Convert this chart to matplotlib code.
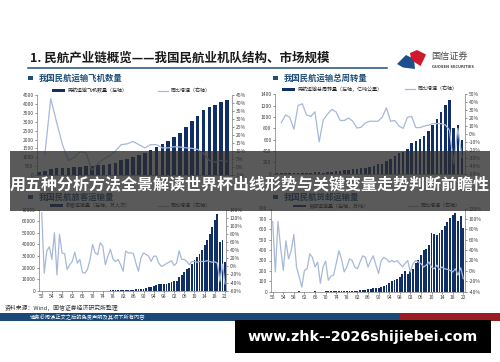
import numpy as np
import matplotlib
matplotlib.use('Agg')
import matplotlib.pyplot as plt
from matplotlib.patches import Rectangle, Polygon, Patch
from matplotlib.lines import Line2D

plt.rcParams['font.family'] = ['Noto Sans CJK SC', 'DejaVu Sans']
plt.rcParams['axes.unicode_minus'] = False

# ---------------- data ----------------
fleet_years = list(range(1990, 2023))
fleet_count = [190, 230, 330, 365, 385, 405, 425, 445, 520, 500, 540, 580, 620, 700, 820,
               880, 1010, 1110, 1250, 1400, 1560, 1770, 1940, 2170, 2380, 2690, 3020, 3345,
               3690, 3845, 3960, 4110, 4250]
fleet_growth_years = list(range(1991, 2023))
fleet_growth = [8, 43, 28, 14, 4, 6, 9.5, 9, -2, 2, 5, 7, 10, 14, 14.5, 16, 14, 12, 14, 14,
                12, 12, 12.7, 12.5, 12, 11.7, 11, 8.5, 4, 3, 4, 3.5]

turnover_years = list(range(1978, 2023))
turnover = [3, 4, 4, 5, 6, 7, 9, 12, 16, 20, 23, 19, 25, 35, 45, 52, 58, 71, 81, 87, 93, 106,
            122, 141, 165, 170, 231, 261, 306, 365, 376, 427, 538, 577, 610, 672, 748, 852,
            963, 1083, 1206, 1300, 799, 857, 599]
turnover_growth_years = list(range(1979, 2023))
turnover_growth = [14, 24, 21, 6, 36, 38, 24, 22, 28, -10, 18, 25, 31, 28, 17, 17, 20, 16, 7.5,
                   8.5, 14, 16, 16, 16, 21, 33, 16, 17, 10, 7, 21, 22, 8, 8, 10, 11, 13, 13, 13,
                   11.5, 5, -38, 7, -30]

pax_years = list(range(1950, 2023))
pax = [1, 2, 2, 3, 4, 5, 8, 7, 10, 13,
       15, 12, 10, 11, 13, 27, 30, 25, 28, 20,
       22, 25, 35, 50, 70, 139, 154, 176,
       231, 298, 343, 401, 445, 391, 554, 747, 997, 1310, 1442, 1283, 1660, 2178, 2886,
       3383, 4039, 5117, 5555, 5630, 5755, 6094, 6722, 7524, 8594, 8759, 12123, 13827,
       15968, 18576, 19251, 23052, 26769, 29317, 31936, 35397, 39195, 43618, 48796, 55156,
       61174, 65993, 41778, 44056, 25171]
pax_growth = [132, -17, 38, 48, 17, 83, -21, 79, 33, 31,
              -8, 4, 12, 35, 8, 17, -15, -17, -7, 17,
              54, 33, 29, 58, 50, 4, 25, 42, 18, 12,
              17, 4, -12, 38, 33, 33, 32, 8, -12, 21,
              33, 29, 25, 12, 25, 25, 8, 0, 2, 7,
              10, 14, 2, 8, 38, 17, 17, 12, 4, 12,
              12, 10, 12, 12, 12, 14, 12, 10, 11, 8,
              -37, 5, -43]

cargo_years = list(range(1950, 2023))
cargo = [0.1, 0.2, 0.3, 0.4, 0.5, 0.6, 0.7, 0.8, 1.0, 1.5,
         2.0, 1.6, 1.0, 1.1, 1.3, 1.7, 2.0, 1.8, 1.9, 1.8,
         2.0, 2.5, 3.0, 3.4, 3.8, 4.5, 5.0, 5.6,
         6, 8, 9, 9, 10, 12, 15, 20, 22, 30, 33, 31, 37, 45, 58, 69, 83, 101, 115, 125,
         140, 170, 197, 171, 202, 219, 277, 307, 349, 402, 408, 446, 563, 558, 545, 561,
         594, 629, 668, 706, 739, 753, 677, 732, 608]
cargo_growth = [95, -2, 95, 45, 1, 58, 23, 39, 70, 7.5,
                -11, -31, 1, 4, 33, 26, 7.5, 17, -24, 7.5,
                19, -18, -10, -8, 14, 39, 23, -2, 7.5, 23,
                20, 7.5, 4, 17, 29, 26, 7.5, 20, 29, 11,
                -5, 20, 26, 23, 17, 20, 17, 20, 14, 7.5,
                14, 20, -2, 14, 20, 17, 14, 7.5, 11, 17,
                7.5, 4, 11, 2.5, 7.5, 4, 3,
                1, -2, 4, -8, 6, -15]

long_xticks = list(range(1950, 2023, 4))
long_xlabels = [f'{y % 100:02d}' for y in long_xticks]

title = '1. 民航产业链概览——我国民航业机队结构、市场规模'
overlay_text = '用五种分析方法全景解读世界杯出线形势与关键变量走势判断前瞻性'
site_text = 'www.zhk--2026shijiebei.com'

# ---------------- style ----------------
W, H = 500, 362
BAR = '#102f66'
LINE = '#a7b8d8'
BLUE = '#1f4e79'
TXT = '#404040'
FS = 3.6

fig = plt.figure(figsize=(5, 3.62), dpi=100)
fig.patch.set_facecolor('white')


def fx(x):
    return x / W


def fy(y):
    return 1 - y / H


def panel(rect, xlim, years, vals, gyears, gvals, ylim, yticks, y2lim, y2ticks,
          barw, labels, legx, legy, xticks=None, xlabels=None):
    x0, y0, x1, y1 = rect
    ax = fig.add_axes([fx(x0), fy(y1), (x1 - x0) / W, (y1 - y0) / H])
    ax.bar(years, vals, width=barw, color=BAR, linewidth=0, zorder=2)
    ax.set_xlim(*xlim)
    ax.set_ylim(*ylim)
    ax.set_yticks(yticks)
    ax.set_yticklabels([str(t) for t in yticks])
    if xticks is not None:
        ax.set_xticks(xticks)
        ax.set_xticklabels(xlabels)
    else:
        ax.set_xticks([])
    ax2 = ax.twinx()
    ax2.plot(gyears, gvals, color=LINE, lw=0.9, zorder=3)
    ax2.set_ylim(*y2lim)
    ax2.set_yticks(y2ticks)
    ax2.set_yticklabels([f'{t}%' for t in y2ticks])
    for a in (ax, ax2):
        a.set_facecolor('none')
        a.tick_params(labelsize=FS, length=1.5, width=0.4, pad=1, colors=TXT)
        for s in a.spines.values():
            s.set_color('#7f7f7f')
            s.set_linewidth(0.5)
    ax.spines['top'].set_visible(False)
    ax.spines['right'].set_visible(False)
    for s in ('top', 'left', 'bottom'):
        ax2.spines[s].set_visible(False)
    h1 = Patch(facecolor=BAR, edgecolor='none')
    leg1 = ax.legend([h1], [labels[0]], loc='center left', bbox_to_anchor=(legx[0], legy),
                     frameon=False, fontsize=FS, handlelength=2.6, handleheight=0.45,
                     handletextpad=0.5, borderpad=0, borderaxespad=0)
    h2 = Line2D([], [], color=LINE, lw=0.9)
    leg2 = ax2.legend([h2], [labels[1]], loc='center left', bbox_to_anchor=(legx[1], legy),
                      frameon=False, fontsize=FS, handlelength=2.0,
                      handletextpad=0.5, borderpad=0, borderaxespad=0)
    for lg in (leg1, leg2):
        for t in lg.get_texts():
            t.set_color('#222222')
    return ax, ax2


# top-left: fleet
panel((37, 95.3, 232, 174.9), (1989.66, 2022.85), fleet_years, fleet_count,
      fleet_growth_years, fleet_growth, (0, 4500), list(range(0, 4501, 500)),
      (-5, 45), list(range(-5, 46, 5)), 0.6,
      ('民航运输飞机数量（左轴）', '同比增速（右轴）'), (0.077, 0.62), 1.058)

# top-right: turnover
panel((275, 94.3, 465, 173.6), (1977.5, 2022.7), turnover_years, turnover,
      turnover_growth_years, turnover_growth, (0, 1400), list(range(0, 1401, 200)),
      (-50, 50), list(range(-50, 51, 10)), 0.6,
      ('民航运输总周转量（左轴，亿吨公里）', '同比增速（右轴）'), (0.035, 0.684), 1.063)

# bottom-left: passengers
panel((39, 209.5, 226, 290.7), (1948.94, 2022.4), pax_years, pax,
      pax_years, pax_growth, (0, 70000), list(range(0, 70001, 10000)),
      (-60, 140), list(range(-60, 141, 20)), 0.7,
      ('旅客运输量（左轴，万人次）', '同比增速（右轴）'), (0.059, 0.636), 1.045,
      long_xticks, long_xlabels)

# bottom-right: cargo
panel((270.7, 208.5, 465, 291.7), (1949.25, 2022.64), cargo_years, cargo,
      cargo_years, cargo_growth, (0, 800), list(range(0, 801, 100)),
      (-40, 120), list(range(-40, 121, 20)), 0.7,
      ('货邮运输量（左轴，万吨）', '同比增速（右轴）'), (0.115, 0.707), 1.03,
      long_xticks, long_xlabels)

# ---------------- slide decorations ----------------
fig.text(fx(30), fy(58), title, fontsize=9.0, fontweight='bold', color='#1a1a1a',
         ha='left', va='center')
fig.add_artist(Line2D([fx(28), fx(387)], [fy(68), fy(68)], color=BLUE, lw=1.1))

subs = [(28, 78, '我国民航运输飞机数量'), (273, 78, '我国民航运输总周转量'),
        (28, 197, '我国民航旅客运输量'), (273, 197, '我国民航货邮运输量')]
for sx, sy, txt in subs:
    fig.add_artist(Rectangle((fx(sx), fy(sy + 2.3)), 4.6 / W, 4.6 / H,
                             transform=fig.transFigure, facecolor=BLUE, edgecolor='none'))
    fig.text(fx(sx + 11), fy(sy), txt, fontsize=6.0, fontweight='bold', color=BLUE,
             ha='left', va='center')

# logo
blue_pts = [(397, 64), (406, 55), (414, 59), (415, 69), (403, 67.5)]
red_pts = [(410, 53), (417, 50), (426, 54.5), (423.5, 60), (420.5, 66), (415, 62.5), (411, 58.5)]
fig.add_artist(Polygon([(fx(a), fy(b)) for a, b in blue_pts], closed=True,
                       transform=fig.transFigure, facecolor='#1d4f8c', edgecolor='none'))
fig.add_artist(Polygon([(fx(a), fy(b)) for a, b in red_pts], closed=True,
                       transform=fig.transFigure, facecolor='#d0182d', edgecolor='none'))
fig.text(fx(431), fy(57.5), '国信证券', fontsize=6.6, color='#4a4a4a', ha='left', va='center')
fig.text(fx(432), fy(66.7), 'GUOSEN SECURITIES', fontsize=2.6, fontweight='bold',
         color='#4a4a4a', ha='left', va='center', family='DejaVu Sans')

# source + footer
fig.text(fx(5), fy(307.5), '资料来源：Wind，国信证券经济研究所整理', fontsize=4.2,
         color='#333333', ha='left', va='center')
fig.add_artist(Rectangle((0, fy(321)), fx(400), 8 / H, transform=fig.transFigure,
                         facecolor='#1b4877', edgecolor='none'))
fig.add_artist(Rectangle((fx(400), fy(321)), fx(100), 8 / H, transform=fig.transFigure,
                         facecolor='#9b1c22', edgecolor='none'))
fig.text(fx(30), fy(317), '请务必阅读正文之后的免责声明及其项下所有内容', fontsize=3.8,
         color='white', ha='left', va='center')

# overlay banner
fig.add_artist(Rectangle((fx(10), fy(211)), 480 / W, 60 / H, transform=fig.transFigure,
                         facecolor='#2b2b2b', alpha=0.78, edgecolor='none', zorder=10))
fig.text(fx(250), fy(184.5), overlay_text, fontsize=11.5, fontweight='bold', color='white',
         ha='center', va='center', zorder=11)

# website box
fig.add_artist(Rectangle((fx(235), fy(353)), 256 / W, 33 / H, transform=fig.transFigure,
                         facecolor='black', edgecolor='none', zorder=10))
fig.text(fx(363), fy(336.5), site_text, fontsize=10.3, fontweight='bold', color='white',
         ha='center', va='center', family='DejaVu Sans', zorder=11)

fig.savefig('out.png', dpi=100)
